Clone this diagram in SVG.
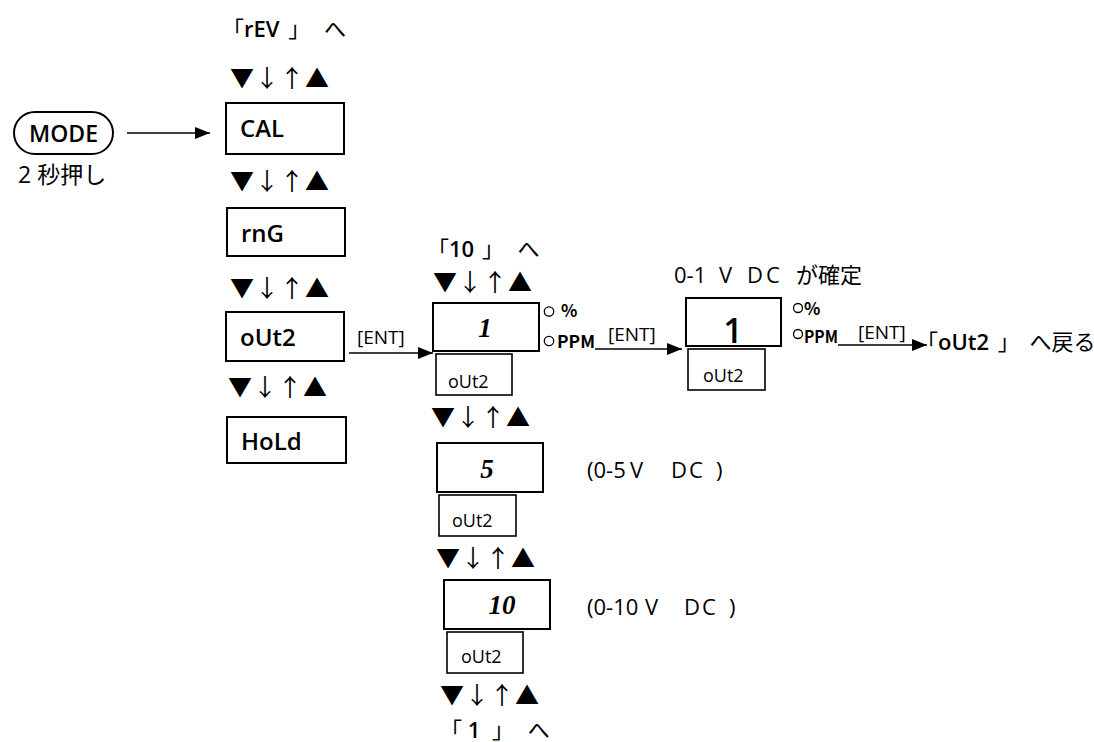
<svg xmlns="http://www.w3.org/2000/svg" width="1094" height="742" viewBox="0 0 1094 742">
<style>
text{font-family:"Open Sans","Noto Sans CJK JP",sans-serif;fill:#000}
.box{fill:#fff;stroke:#000;stroke-width:2}
.sbox{fill:#fff;stroke:#000;stroke-width:1.6}
.lbl{font-size:24px;font-weight:600}
.nav{font-family:"Noto Sans CJK JP",sans-serif;font-size:24px;letter-spacing:1px}
.sm{font-size:18px}
.ent{font-size:19px}
.dig{font-family:"Liberation Serif",serif;font-style:italic;font-weight:bold;font-size:27px}
.txt{font-size:22px}
.bold{font-weight:600}
.unit{font-size:17px;font-weight:bold;font-family:"Noto Sans CJK JP",sans-serif}
.ring{fill:none;stroke:#000;stroke-width:1.3}
.line{stroke:#000;stroke-width:1.6;fill:none}
</style>
<defs>
<marker id="ah" markerWidth="15" markerHeight="12" refX="15" refY="6" orient="auto" markerUnits="userSpaceOnUse">
<path d="M0,0 L15,6 L0,12 Z" fill="#000"/>
</marker>
</defs>

<g id="mode">
<rect x="14" y="112" width="99" height="42" rx="21" ry="21" class="box"/>
<text x="63.5" y="142" text-anchor="middle" class="lbl" style="font-size:23px">MODE</text>
<text x="18" y="183" class="txt" style="font-size:23px">2 秒押し</text>
</g>

<g id="rev-label">
<text x="222" y="37" class="txt">「<tspan class="bold">rEV</tspan><tspan dx="3"> 」</tspan><tspan dx="8"> へ</tspan></text>
</g>

<g id="nav-rows">
<text x="230" y="87" class="nav">▼↓↑▲</text>
<text x="230" y="190" class="nav">▼↓↑▲</text>
<text x="230" y="297" class="nav">▼↓↑▲</text>
<text x="228" y="396" class="nav">▼↓↑▲</text>
<text x="433" y="291" class="nav">▼↓↑▲</text>
<text x="431" y="426" class="nav">▼↓↑▲</text>
<text x="436" y="567" class="nav">▼↓↑▲</text>
<text x="440" y="704" class="nav">▼↓↑▲</text>
</g>

<g id="cal">
<rect x="226" y="103" width="118" height="51" class="box"/>
<text x="240" y="137" class="lbl">CAL</text>
</g>
<g id="rng">
<rect x="227" y="208" width="118" height="48" class="box"/>
<text x="241" y="242" class="lbl">rnG</text>
</g>
<g id="out2">
<rect x="226" y="312" width="118" height="49" class="box"/>
<text x="240" y="346" class="lbl">oUt2</text>
</g>
<g id="hold">
<rect x="227" y="417" width="119" height="46" class="box"/>
<text x="241" y="450" class="lbl">HoLd</text>
</g>

<g id="ten-label">
<text x="427" y="257" class="txt">「<tspan class="bold">10</tspan><tspan dx="2"> 」</tspan><tspan dx="8"> へ</tspan></text>
</g>

<g id="sel1">
<rect x="433" y="303" width="106" height="48" class="box"/>
<text x="485" y="337" class="dig" text-anchor="middle">1</text>
<rect x="436" y="354" width="76" height="41" class="sbox"/>
<text x="448" y="388" class="sm">oUt2</text>
<circle cx="549" cy="311.5" r="4.7" class="ring"/>
<text x="561" y="317" class="unit">%</text>
<circle cx="549" cy="341" r="4.7" class="ring"/>
<text x="557" y="348" class="unit" textLength="38" lengthAdjust="spacingAndGlyphs">PPM</text>
</g>

<g id="sel5">
<rect x="437" y="443" width="106" height="49" class="box"/>
<text x="487" y="478" class="dig" text-anchor="middle">5</text>
<rect x="439" y="495" width="77" height="41" class="sbox"/>
<text x="452" y="527" class="sm">oUt2</text>
<text y="478" class="txt"><tspan x="587">(0-5</tspan><tspan x="630">V</tspan><tspan x="671">D</tspan><tspan x="689">C</tspan><tspan x="716">)</tspan></text>
</g>

<g id="sel10">
<rect x="444" y="580" width="106" height="49" class="box"/>
<text x="502" y="614" class="dig" text-anchor="middle">10</text>
<rect x="447" y="632" width="76" height="41" class="sbox"/>
<text x="461" y="663" class="sm">oUt2</text>
<text y="615" class="txt"><tspan x="587">(0-10</tspan><tspan x="645">V</tspan><tspan x="684">D</tspan><tspan x="702">C</tspan><tspan x="729">)</tspan></text>
</g>

<g id="one-label">
<text x="440" y="738" class="txt">「 <tspan class="bold">1</tspan><tspan dx="6"> 」</tspan><tspan dx="8"> へ</tspan></text>
</g>

<g id="confirm">
<text y="283" class="txt"><tspan x="674">0-1</tspan><tspan x="719">V</tspan><tspan x="747">D</tspan><tspan x="766">C</tspan><tspan x="796">が確定</tspan></text>
<rect x="686" y="298" width="95" height="48" class="box"/>
<text x="733" y="343" text-anchor="middle" style="font-size:34px;font-weight:600">1</text>
<rect x="688" y="349" width="77" height="41" class="sbox"/>
<text x="703" y="382" class="sm">oUt2</text>
<circle cx="798" cy="308" r="4.5" class="ring"/>
<text x="804" y="315" class="unit">%</text>
<circle cx="798" cy="334" r="4.5" class="ring"/>
<text x="804" y="343" class="unit" textLength="34" lengthAdjust="spacingAndGlyphs">PPM</text>
</g>

<g id="back">
<text x="916" y="350" class="txt">「<tspan class="bold">oUt2</tspan><tspan dx="3"> 」</tspan><tspan dx="4"> へ戻る</tspan></text>
</g>

<g id="connectors">
<line x1="127" y1="133" x2="210" y2="133" class="line" marker-end="url(#ah)"/>
<line x1="349" y1="353" x2="433" y2="353" class="line" marker-end="url(#ah)"/>
<text x="357" y="344" class="ent">[ENT]</text>
<line x1="595" y1="349" x2="682" y2="349" class="line" marker-end="url(#ah)"/>
<text x="608" y="341" class="ent">[ENT]</text>
<line x1="838" y1="345" x2="927" y2="345" class="line" marker-end="url(#ah)"/>
<text x="858" y="339" class="ent">[ENT]</text>
</g>
</svg>
